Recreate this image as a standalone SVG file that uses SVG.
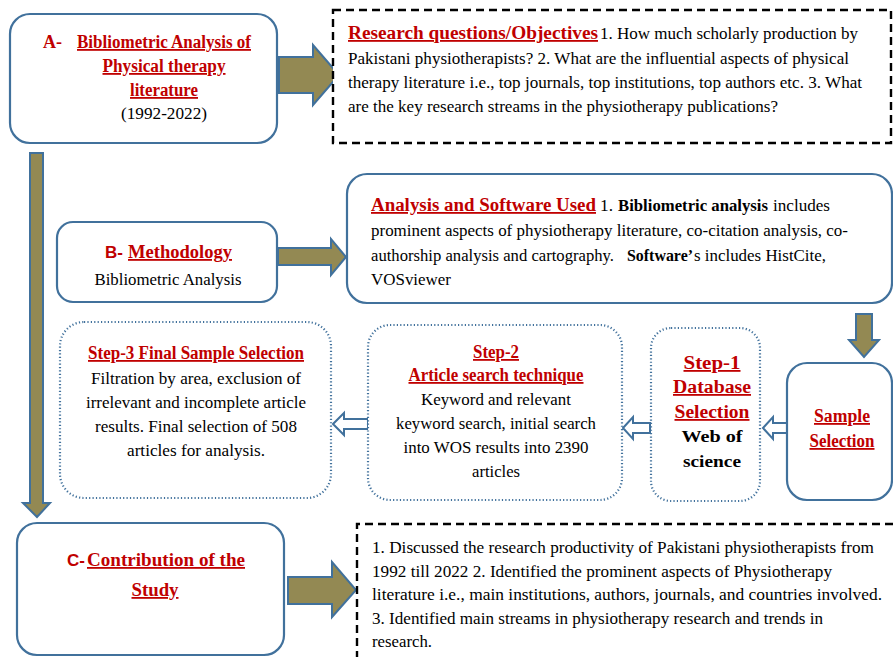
<svg xmlns="http://www.w3.org/2000/svg" width="893" height="657" viewBox="0 0 893 657">
<style>
 .box{fill:#fff;stroke:#41719C;stroke-width:2.2}
 .dot{fill:#fff;stroke:#41719C;stroke-width:2.2;stroke-dasharray:1.2 2.2}
 .dash{fill:#fff;stroke:#000;stroke-width:2.4;stroke-dasharray:8 5}
 .big{fill:#938953;stroke:#41719C;stroke-width:2}
 .hollow{fill:#fff;stroke:#41719C;stroke-width:2}
 text{font-family:"Liberation Serif","Times New Roman",serif;font-size:17.5px;fill:#000}
 .h{font-weight:bold;fill:#C00000;text-decoration:underline;font-size:18px}
 .r{font-weight:bold;fill:#C00000;font-size:18px}
 .s{font-family:"Liberation Sans",Arial,sans-serif;font-weight:bold;fill:#C00000;font-size:17px}
 .b{font-weight:bold}
 .c{text-anchor:middle}
</style>
<rect width="893" height="657" fill="#fff"/>

<g id="connectors">
 <polygon class="big" points="279,57 313,57 313,45 339,75 313,105 313,93 279,93"/>
 <polygon class="big" points="278,248 331,248 331,239 346,257 331,275 331,265 278,265"/>
 <polygon class="big" points="288,577 332,577 332,562 356,590 332,617 332,604 288,604"/>
 <polygon class="big" points="30,153 43,153 43,503 50,503 37,517 23,503 30,503"/>
 <polygon class="big" points="856,314 872,314 872,340 879,340 864,357 849,340 856,340"/>
 <polygon class="hollow" points="763,428 773,417 773,423 788,423 788,433 773,433 773,439"/>
 <polygon class="hollow" points="623,428 633,417 633,423 650,423 650,433 633,433 633,439"/>
 <polygon class="hollow" points="333,424 344,413 344,419 368,419 368,429 344,429 344,435"/>
</g>

<g id="nodeA">
 <rect class="box" x="10" y="14" width="267" height="129" rx="20"/>
 <text x="43" y="48" class="r">A-</text>
 <text x="164" y="48" class="c h" textLength="174" lengthAdjust="spacingAndGlyphs">Bibliometric Analysis of</text>
 <text x="164" y="72" class="c h" textLength="123" lengthAdjust="spacingAndGlyphs">Physical therapy</text>
 <text x="164" y="96" class="c h" textLength="68" lengthAdjust="spacingAndGlyphs">literature</text>
 <text x="164" y="119" class="c" textLength="86" lengthAdjust="spacingAndGlyphs">(1992-2022)</text>
</g>

<g id="objectives">
 <rect class="dash" x="333" y="10" width="558" height="133"/>
 <text x="348" y="39" class="h" textLength="250" lengthAdjust="spacingAndGlyphs">Research questions/Objectives</text>
 <text x="600" y="39" textLength="258" lengthAdjust="spacingAndGlyphs">1. How much scholarly production by</text>
 <text x="348" y="64" textLength="501" lengthAdjust="spacingAndGlyphs">Pakistani physiotherapists? 2. What are the influential aspects of physical</text>
 <text x="348" y="88" textLength="514" lengthAdjust="spacingAndGlyphs">therapy literature i.e., top journals, top institutions, top authors etc. 3. What</text>
 <text x="348" y="112" textLength="430" lengthAdjust="spacingAndGlyphs">are the key research streams in the physiotherapy publications?</text>
</g>

<g id="nodeB">
 <rect class="box" x="57" y="222" width="220" height="80" rx="16"/>
 <text x="105" y="258" class="s">B-</text>
 <text x="128" y="258" class="h" textLength="104" lengthAdjust="spacingAndGlyphs">Methodology</text>
 <text x="168" y="285" class="c" textLength="147" lengthAdjust="spacingAndGlyphs">Bibliometric Analysis</text>
</g>

<g id="analysis">
 <rect class="box" x="347" y="174" width="545" height="129" rx="20"/>
 <text x="371" y="211" class="h" textLength="225" lengthAdjust="spacingAndGlyphs">Analysis and Software Used</text>
 <text x="600" y="211" textLength="13" lengthAdjust="spacingAndGlyphs">1.</text>
 <text x="618" y="211" class="b" textLength="150" lengthAdjust="spacingAndGlyphs">Bibliometric analysis</text>
 <text x="773" y="211" textLength="57" lengthAdjust="spacingAndGlyphs">includes</text>
 <text x="371" y="236" textLength="477" lengthAdjust="spacingAndGlyphs">prominent aspects of physiotherapy literature, co-citation analysis, co-</text>
 <text x="371" y="261" textLength="243" lengthAdjust="spacingAndGlyphs">authorship analysis and cartography.</text>
 <text x="627" y="261" class="b" textLength="66" lengthAdjust="spacingAndGlyphs">Software’</text>
 <text x="694" y="261" textLength="132" lengthAdjust="spacingAndGlyphs">s includes HistCite,</text>
 <text x="371" y="285" textLength="80" lengthAdjust="spacingAndGlyphs">VOSviewer</text>
</g>

<g id="sample">
 <rect class="box" x="787" y="363" width="105" height="137" rx="20"/>
 <text x="842" y="422" class="c h" textLength="56" lengthAdjust="spacingAndGlyphs">Sample</text>
 <text x="842" y="447" class="c h" textLength="65" lengthAdjust="spacingAndGlyphs">Selection</text>
</g>

<g id="step1">
 <rect class="dot" x="651" y="328" width="109" height="173" rx="20"/>
 <text x="712" y="369" class="c h" textLength="57" lengthAdjust="spacingAndGlyphs">Step-1</text>
 <text x="712" y="393" class="c h" textLength="78" lengthAdjust="spacingAndGlyphs">Database</text>
 <text x="712" y="418" class="c h" textLength="75" lengthAdjust="spacingAndGlyphs">Selection</text>
 <text x="712" y="442" class="c b" font-size="18" textLength="61" lengthAdjust="spacingAndGlyphs">Web of</text>
 <text x="712" y="467" class="c b" font-size="18" textLength="58" lengthAdjust="spacingAndGlyphs">science</text>
</g>

<g id="step2">
 <rect class="dot" x="368" y="325" width="254" height="175" rx="22"/>
 <text x="496" y="358" class="c h" textLength="46" lengthAdjust="spacingAndGlyphs">Step-2</text>
 <text x="496" y="381" class="c h" textLength="175" lengthAdjust="spacingAndGlyphs">Article search technique</text>
 <text x="496" y="405" class="c" textLength="150" lengthAdjust="spacingAndGlyphs">Keyword and relevant</text>
 <text x="496" y="429" class="c" textLength="200" lengthAdjust="spacingAndGlyphs">keyword search, initial search</text>
 <text x="496" y="453" class="c" textLength="185" lengthAdjust="spacingAndGlyphs">into WOS results into 2390</text>
 <text x="496" y="477" class="c" textLength="48" lengthAdjust="spacingAndGlyphs">articles</text>
</g>

<g id="step3">
 <rect class="dot" x="60" y="322" width="271" height="176" rx="24"/>
 <text x="196" y="359" class="c h" textLength="216" lengthAdjust="spacingAndGlyphs">Step-3 Final Sample Selection</text>
 <text x="196" y="384" class="c" textLength="210" lengthAdjust="spacingAndGlyphs">Filtration by area, exclusion of</text>
 <text x="196" y="408" class="c" textLength="220" lengthAdjust="spacingAndGlyphs">irrelevant and incomplete article</text>
 <text x="196" y="432" class="c" textLength="202" lengthAdjust="spacingAndGlyphs">results. Final selection of 508</text>
 <text x="196" y="456" class="c" textLength="138" lengthAdjust="spacingAndGlyphs">articles for analysis.</text>
</g>

<g id="nodeC">
 <rect class="box" x="17" y="523" width="267" height="132" rx="20"/>
 <text x="67" y="566" class="s">C-</text>
 <text x="87" y="566" class="h" textLength="158" lengthAdjust="spacingAndGlyphs">Contribution of the</text>
 <text x="155" y="596" class="c h" textLength="47" lengthAdjust="spacingAndGlyphs">Study</text>
</g>

<g id="contribution">
 <path class="dash" d="M893,524 H357 V657" fill="none"/>
 <text x="372" y="553" textLength="502" lengthAdjust="spacingAndGlyphs">1. Discussed the research productivity of Pakistani physiotherapists from</text>
 <text x="372" y="577" textLength="460" lengthAdjust="spacingAndGlyphs">1992 till 2022 2. Identified the prominent aspects of Physiotherapy</text>
 <text x="372" y="600" textLength="510" lengthAdjust="spacingAndGlyphs">literature i.e., main institutions, authors, journals, and countries involved.</text>
 <text x="372" y="624" textLength="451" lengthAdjust="spacingAndGlyphs">3. Identified main streams in physiotherapy research and trends in</text>
 <text x="372" y="647" textLength="60" lengthAdjust="spacingAndGlyphs">research.</text>
</g>
</svg>
